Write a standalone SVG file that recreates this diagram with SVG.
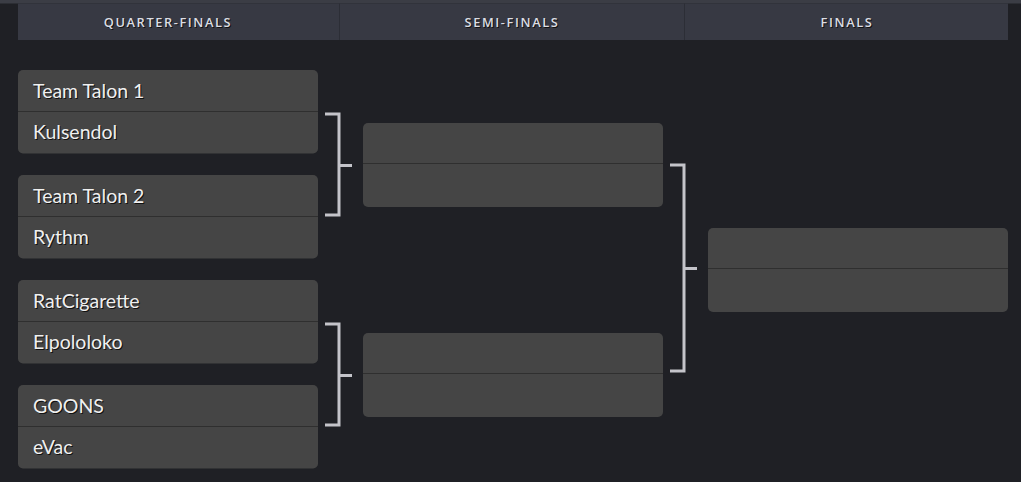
<svg xmlns="http://www.w3.org/2000/svg" width="1021" height="482" viewBox="0 0 1021 482">
<defs>
<style>
.hdr{font-family:"Open Sans","DejaVu Sans",sans-serif;font-size:12.8px;font-weight:600;letter-spacing:1.6px;fill:#dcdee4;text-anchor:middle}
.box{fill:#454545}
.div{stroke:#2f2f2f;stroke-width:1.2}
.t{font-family:"Lato","Liberation Sans",sans-serif;font-size:19.5px;fill:#f0f0f0}
.sh{fill:#111}
.br{fill:none;stroke:#c4c4ca;stroke-width:3}
</style>
</defs>
<rect width="1021" height="482" fill="#1f2025"/>
<rect x="0" y="0" width="1021" height="3.5" fill="#3b3d45"/>
<g id="header">
<rect x="18" y="3.5" width="990" height="36.5" fill="#373943"/>
<line x1="339.5" y1="3.5" x2="339.5" y2="40" stroke="#2c2e36" stroke-width="1"/>
<line x1="684.5" y1="3.5" x2="684.5" y2="40" stroke="#2c2e36" stroke-width="1"/>
<text class="hdr" x="168" y="27" style="fill:#111" dx="1" dy="1">QUARTER-FINALS</text>
<text class="hdr" x="168" y="27">QUARTER-FINALS</text>
<text class="hdr" x="512" y="27" style="fill:#111" dx="1" dy="1">SEMI-FINALS</text>
<text class="hdr" x="512" y="27">SEMI-FINALS</text>
<text class="hdr" x="847" y="27" style="fill:#111" dx="1" dy="1">FINALS</text>
<text class="hdr" x="847" y="27">FINALS</text>
</g>
<g id="qf1">
<rect class="box" x="18" y="70" width="300" height="83.5" rx="5"/>
<line class="div" x1="18" y1="111.5" x2="318" y2="111.5"/>
<text class="t sh" x="34" y="99">Team Talon 1</text><text class="t" x="33" y="98">Team Talon 1</text>
<text class="t sh" x="34" y="140">Kulsendol</text><text class="t" x="33" y="139">Kulsendol</text>
</g>
<g id="qf2">
<rect class="box" x="18" y="175" width="300" height="83.5" rx="5"/>
<line class="div" x1="18" y1="216.5" x2="318" y2="216.5"/>
<text class="t sh" x="34" y="204">Team Talon 2</text><text class="t" x="33" y="203">Team Talon 2</text>
<text class="t sh" x="34" y="245">Rythm</text><text class="t" x="33" y="244">Rythm</text>
</g>
<g id="qf3">
<rect class="box" x="18" y="280" width="300" height="83.5" rx="5"/>
<line class="div" x1="18" y1="321.5" x2="318" y2="321.5"/>
<text class="t sh" x="34" y="309">RatCigarette</text><text class="t" x="33" y="308">RatCigarette</text>
<text class="t sh" x="34" y="350">Elpololoko</text><text class="t" x="33" y="349">Elpololoko</text>
</g>
<g id="qf4">
<rect class="box" x="18" y="385" width="300" height="83.5" rx="5"/>
<line class="div" x1="18" y1="426.5" x2="318" y2="426.5"/>
<text class="t sh" x="34" y="414">GOONS</text><text class="t" x="33" y="413">GOONS</text>
<text class="t sh" x="34" y="455">eVac</text><text class="t" x="33" y="454">eVac</text>
</g>
<g id="sf1">
<rect class="box" x="363" y="123" width="300" height="84" rx="5"/>
<line class="div" x1="363" y1="163.5" x2="663" y2="163.5"/>
</g>
<g id="sf2">
<rect class="box" x="363" y="333" width="300" height="84" rx="5"/>
<line class="div" x1="363" y1="373.5" x2="663" y2="373.5"/>
</g>
<g id="final">
<rect class="box" x="708" y="228" width="300" height="84" rx="5"/>
<line class="div" x1="708" y1="268.5" x2="1008" y2="268.5"/>
</g>
<g id="connectors">
<path class="br" d="M325 114H339V215H325M339 165.5H352"/>
<path class="br" d="M325 324H339V425H325M339 375.5H352"/>
<path class="br" d="M670 165H684V371H670M684 268.5H697"/>
</g>
</svg>
